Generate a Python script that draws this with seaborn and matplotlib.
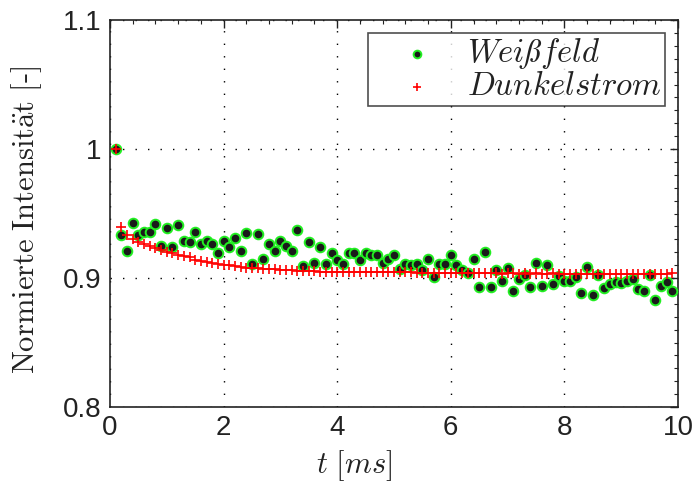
import numpy as np
import pandas as pd
import matplotlib
matplotlib.use("Agg")
import matplotlib.pyplot as plt
from matplotlib.ticker import MultipleLocator
import seaborn as sns

# Time axis in ms (sampling step 0.1 ms)
t_ms = [round(0.1 * k, 1) for k in range(1, 100)]

# Normalised white-field intensity
weissfeld = [
    1.000, 0.933, 0.921, 0.943, 0.933, 0.9355, 0.936, 0.942, 0.925, 0.939,
    0.924, 0.941, 0.9285, 0.928, 0.936, 0.926, 0.929, 0.9265, 0.9195, 0.929,
    0.924, 0.931, 0.921, 0.935, 0.911, 0.934, 0.915, 0.926, 0.921, 0.929,
    0.925, 0.921, 0.937, 0.909, 0.928, 0.912, 0.924, 0.911, 0.919, 0.914,
    0.9105, 0.919, 0.9195, 0.914, 0.919, 0.918, 0.9175, 0.912, 0.915, 0.9175,
    0.907, 0.911, 0.910, 0.911, 0.906, 0.915, 0.9004, 0.911, 0.911, 0.918,
    0.910, 0.906, 0.904, 0.915, 0.8934, 0.920, 0.8934, 0.906, 0.8975, 0.908,
    0.890, 0.8996, 0.902, 0.893, 0.912, 0.894, 0.910, 0.895, 0.9014, 0.8975,
    0.898, 0.9006, 0.888, 0.9087, 0.887, 0.9025, 0.892, 0.895, 0.897, 0.896,
    0.898, 0.899, 0.8916, 0.890, 0.9027, 0.8833, 0.894, 0.8967, 0.890,
]

# Normalised dark-current intensity
dunkelstrom = [
    1.000, 0.9397, 0.9335, 0.9304, 0.928, 0.926, 0.9247, 0.923, 0.9216, 0.9203,
    0.919, 0.9177, 0.9167, 0.9159, 0.9143, 0.9133, 0.9126, 0.9118, 0.911, 0.9102,
    0.9097, 0.9092, 0.9087, 0.9081, 0.9076, 0.9074, 0.9071, 0.9068, 0.9066, 0.9063,
    0.9063, 0.906, 0.9058, 0.9056, 0.9053, 0.9053, 0.905, 0.905, 0.9048, 0.9048,
    0.9048, 0.9049, 0.9047, 0.9048, 0.9047, 0.9045, 0.9046, 0.9044, 0.9045, 0.9045,
    0.9044, 0.9047, 0.9043, 0.9041, 0.9042, 0.9040, 0.9041, 0.9039, 0.9040, 0.9038,
    0.9039, 0.9037, 0.9038, 0.9036, 0.9037, 0.9035, 0.9036, 0.9037, 0.9034, 0.9035,
    0.9036, 0.9034, 0.9035, 0.9033, 0.9036, 0.9034, 0.9033, 0.9035, 0.9032, 0.9034,
    0.9033, 0.9031, 0.9034, 0.9032, 0.9033, 0.9030, 0.9032, 0.9031, 0.9033, 0.9030,
    0.9032, 0.9031, 0.9030, 0.9033, 0.9031, 0.9030, 0.9032, 0.9031, 0.9035,
]

x_ticks = [0, 2, 4, 6, 8, 10]
y_ticks = [0.8, 0.9, 1.0, 1.1]
y_ticklabels = ["0.8", "0.9", "1", "1.1"]

df_w = pd.DataFrame({"t": t_ms, "I": weissfeld})
df_d = pd.DataFrame({"t": t_ms, "I": dunkelstrom})

sns.set_style("white")
plt.rcParams["mathtext.fontset"] = "cm"
plt.rcParams["font.family"] = ["Liberation Sans", "DejaVu Sans"]

fig = plt.figure(figsize=(6.96, 4.88), dpi=100)
ax = fig.add_axes([110 / 696, 1 - 407 / 488, 568 / 696, 387 / 488])

sns.scatterplot(data=df_w, x="t", y="I", ax=ax, marker="o", s=48,
                color="#1a1a1a", edgecolor="#22ee22", linewidth=1.4,
                label=r"$Wei\ss feld\;$", zorder=3)
sns.scatterplot(data=df_d, x="t", y="I", ax=ax, marker="+", s=55,
                color="red", linewidth=1.2,
                label=r"$Dunkelstrom\;$", zorder=4)

ax.set_xlim(0, 10)
ax.set_ylim(0.8, 1.1)
ax.set_xticks(x_ticks)
ax.set_yticks(y_ticks)
ax.set_yticklabels(y_ticklabels)
ax.xaxis.set_minor_locator(MultipleLocator(0.4))
ax.yaxis.set_minor_locator(MultipleLocator(0.01))

ax.tick_params(which="both", direction="in", top=True, right=True,
               labelsize=20, colors="#222222", pad=6)
ax.tick_params(which="major", length=6, width=1)
ax.tick_params(which="minor", length=3, width=0.8)
for sp in ax.spines.values():
    sp.set_color("#222222")
    sp.set_linewidth(1.2)

ax.grid(True, which="major", linestyle=(0, (1, 8)), color="black", linewidth=1.0)

ax.set_xlabel(r"$t\ [ms]$", fontsize=22, color="#222222")
ax.set_ylabel(r"$\mathrm{Normierte\ Intensit\ddot{a}t\ [\text{-}]}$", fontsize=22,
              color="#222222")
ax.xaxis.set_label_coords(0.43, -0.105)
ax.yaxis.set_label_coords(-0.117, 0.483)

leg = ax.legend(loc="upper right", fontsize=23.5, frameon=True, fancybox=False,
                edgecolor="#222222", borderpad=0.1, handletextpad=0.1,
                labelspacing=0.0, borderaxespad=0.4, handlelength=2.85,
                markerscale=0.8)
leg.get_frame().set_linewidth(1.2)
for txt in leg.get_texts():
    txt.set_color("#222222")

fig.savefig("out.png", dpi=100)
